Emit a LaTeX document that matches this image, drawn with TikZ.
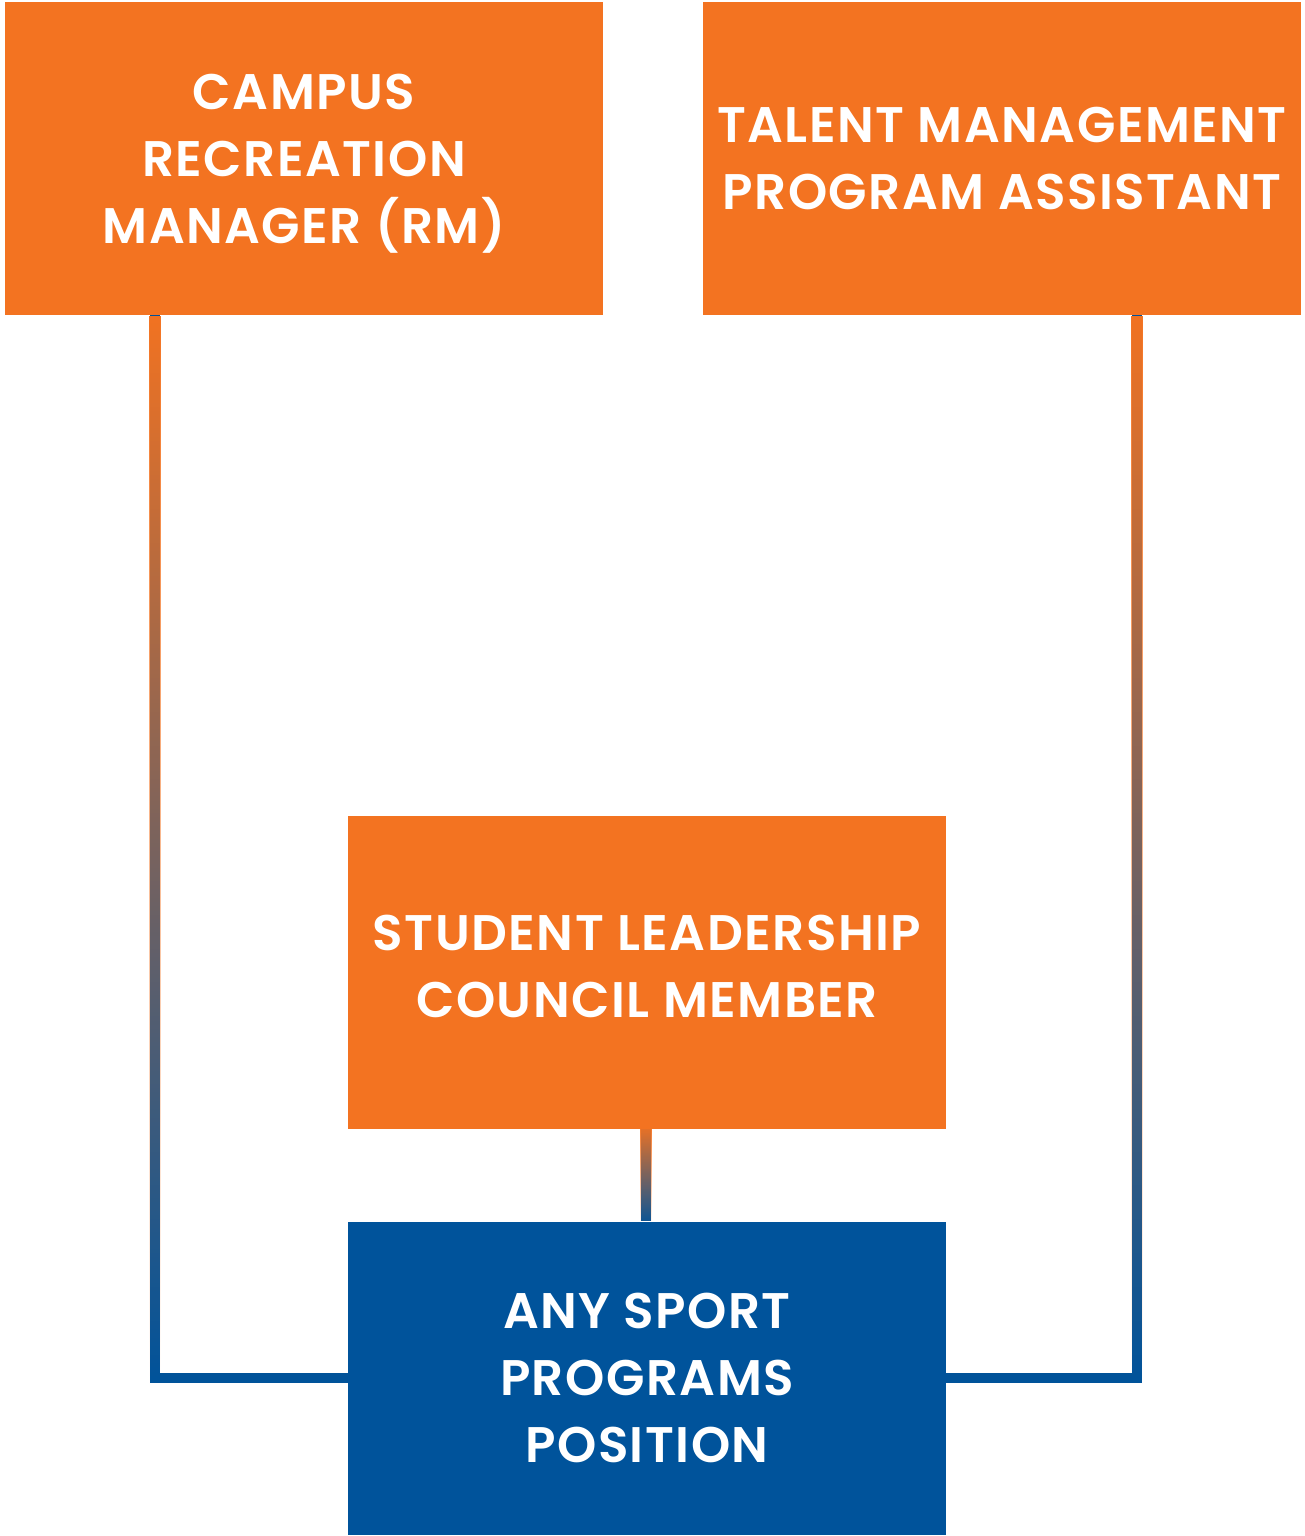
\documentclass[tikz,border=0pt]{standalone}
\usepackage{fontspec}
\newfontfamily\boxfont{Poppins}[UprightFont={* SemiBold}, LetterSpace=3]
\usetikzlibrary{fadings,backgrounds}
\definecolor{orgbox}{HTML}{F37321}
\definecolor{bluebox}{HTML}{00539B}
\tikzfading[name=fadedown, top color=transparent!0, bottom color=transparent!100]
\tikzset{
  rolebox/.style={minimum width=598pt, minimum height=313pt, inner sep=0pt,
    text depth=0pt, text=white, align=center, font=\boxfont\fontsize{50}{67}\selectfont},
  orangebox/.style={rolebox, fill=orgbox},
  bluerole/.style={rolebox, fill=bluebox},
  linkbase/.style={draw=bluebox, line width=10.6pt, line join=miter},
  linkfade/.style={draw=orgbox, line width=11.4pt, line join=miter, path fading=fadedown},
}
\begin{document}
\begin{tikzpicture}[x=1pt,y=-1pt]
\useasboundingbox (0,0) rectangle (1305,1536);
\coordinate (lx) at (155,0);
\coordinate (rx) at (1137,0);
\coordinate (mx) at (646,0);
% boxes
\node[orangebox] (A) at (304,158.5) {CAMPUS\\RECREATION\\MANAGER (RM)};
\node[orangebox] (B) at (1002,158.5) {TALENT MANAGEMENT\\PROGRAM ASSISTANT};
\node[orangebox, text depth=12pt] (C) at (647,972) {STUDENT LEADERSHIP\\COUNCIL MEMBER};
\node[bluerole] (D) at (647,1378) {ANY SPORT\\PROGRAMS\\POSITION};
% connectors behind the boxes
\begin{scope}[on background layer]
\draw[linkbase] (A.south -| lx) |- (D.west);
\draw[linkfade] (A.south -| lx) |- (D.west);
\draw[linkbase] (B.south -| rx) |- (D.east);
\draw[linkfade] (B.south -| rx) |- (D.east);
\draw[linkbase] (C.south -| mx) -- (D.north -| mx);
\draw[linkfade] (C.south -| mx) -- (D.north -| mx);
\end{scope}
\end{tikzpicture}
\end{document}
